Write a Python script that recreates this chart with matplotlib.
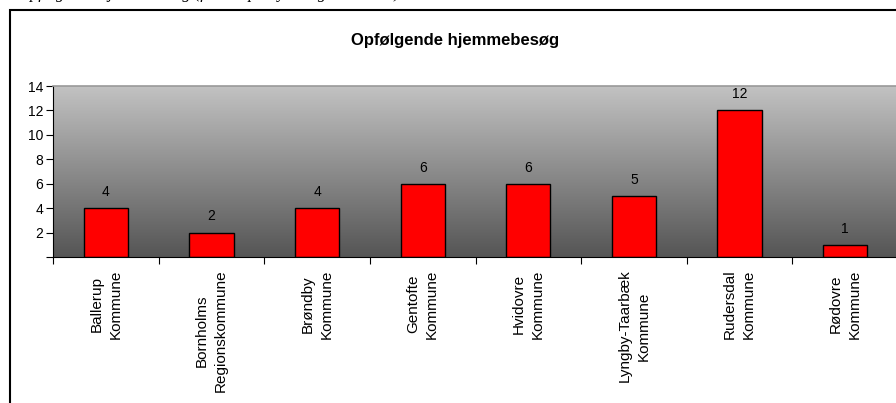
import numpy as np
import matplotlib.pyplot as plt
from matplotlib.patches import Rectangle
from matplotlib.colors import LinearSegmentedColormap

plt.rcParams['font.family'] = ['Liberation Sans', 'DejaVu Sans']

# data
kommuner = ['Ballerup\nKommune', 'Bornholms\nRegionskommune', 'Brøndby\nKommune',
            'Gentofte\nKommune', 'Hvidovre\nKommune', 'Lyngby-Taarbæk\nKommune',
            'Rudersdal\nKommune', 'Rødovre\nKommune']
besoeg = [4, 2, 4, 6, 6, 5, 12, 1]
y_ticks = [0, 2, 4, 6, 8, 10, 12, 14]
y_labels = ['', '2', '4', '6', '8', '10', '12', '14']

fig = plt.figure(figsize=(8.96, 4.03), dpi=100)
W, H = 896, 403

# caption above the chart, cut off at the top edge like in the source page
fig.text(18 / W, (H + 2.5) / H, 'Opfølgende hjemmebesøg (fordelt på bydel og kommune)',
         family=['Liberation Serif', 'DejaVu Serif'], style='italic', fontsize=12,
         ha='left', va='baseline')

# chart area border
fig.patches.append(Rectangle((10 / W, -0.1), 1.2, (H - 10) / H + 0.1,
                             transform=fig.transFigure, fill=False,
                             edgecolor='black', linewidth=1.5))

fig.text(455 / W, (H - 40) / H, 'Opfølgende hjemmebesøg', ha='center', va='center',
         fontsize=12, fontweight='bold')

ax = fig.add_axes([53 / W, (H - 257) / H, 845 / W, 171 / H])
x = np.arange(len(kommuner))

# gradient plot background
cmap = LinearSegmentedColormap.from_list('bg', ['#555555', '#c2c2c2'])
grad = np.linspace(0, 1, 256).reshape(-1, 1)
ax.imshow(grad, cmap=cmap, aspect='auto', origin='lower',
          extent=(-0.5, len(kommuner) - 0.5, 0, 14), zorder=0)

bars = ax.bar(x, besoeg, width=0.42, color='#ff0000', edgecolor='black',
              linewidth=1.0, zorder=2)
for xi, v in zip(x, besoeg):
    ax.text(xi, v + 0.75, str(v), ha='center', va='bottom', fontsize=10)

ax.set_xlim(-0.5, len(kommuner) - 0.5)
ax.set_ylim(0, 14)
ax.set_yticks(y_ticks)
ax.set_yticklabels(y_labels, fontsize=10)
ax.set_xticks(x)
ax.set_xticklabels(kommuner, rotation=90, fontsize=11, ha='center', va='top',
                   multialignment='center', linespacing=1.45)
ax.tick_params(axis='x', length=0, pad=9)
ax.set_xticks(np.arange(len(kommuner) + 1) - 0.5, minor=True)
ax.tick_params(axis='x', which='minor', length=5, width=0.8, direction='out')
ax.tick_params(axis='y', length=5, width=0.8, direction='out', pad=2)

ax.spines['right'].set_visible(False)
ax.spines['top'].set_color('#999999')
ax.spines['top'].set_linewidth(1.2)
ax.spines['left'].set_linewidth(0.8)
ax.spines['bottom'].set_linewidth(0.8)

fig.savefig('out.png', dpi=100)
